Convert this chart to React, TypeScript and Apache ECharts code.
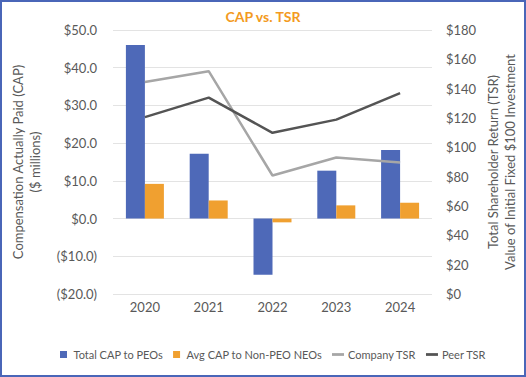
import React, { useEffect, useRef } from "react";
import * as echarts from "echarts";

const years = ["2020", "2021", "2022", "2023", "2024"];
const totalCapPeo = [46.0, 17.2, -14.9, 12.7, 18.2];
const avgCapNonPeo = [9.2, 4.8, -1.0, 3.5, 4.2];
const companyTsr = [144.6, 151.9, 80.8, 93.1, 89.6];
const peerTsr = [120.6, 133.9, 109.9, 118.9, 136.9];

const FONT = "Lato, 'Noto Sans', sans-serif";
const GREY = "#595959";

export default function App() {
  const ref = useRef<HTMLDivElement>(null);
  useEffect(() => {
    document.body.style.margin = "0";
    const chart = echarts.init(ref.current!, null, { renderer: "svg" });
    chart.setOption({
      animation: false,
      textStyle: { fontFamily: FONT },
      title: {
        text: "CAP vs. TSR",
        left: "center",
        top: 4,
        textStyle: { color: "#f39a21", fontSize: 14, fontWeight: "bold", fontFamily: FONT },
      },
      grid: { left: 113, right: 94, top: 30, bottom: 83 },
      legend: {
        left: 55,
        top: 344,
        width: 470,
        itemWidth: 12,
        itemHeight: 7,
        itemGap: 10,
        textStyle: { color: GREY, fontSize: 11, fontFamily: FONT, padding: [0, 0, 0, -1] },
        data: [
          { name: "Total CAP to PEOs", icon: "path://M0,0h7v7h-7z" },
          { name: "Avg CAP to Non-PEO NEOs", icon: "path://M0,0h7v7h-7z" },
          { name: "Company TSR", icon: "path://M0,0h13v3h-13z" },
          { name: "Peer TSR", icon: "path://M0,0h13v3h-13z" },
        ],
      },
      xAxis: {
        type: "category",
        data: years,
        axisLine: { show: false },
        axisTick: { show: false },
        axisLabel: { color: GREY, fontSize: 13, margin: 6, fontFamily: FONT },
      },
      yAxis: [
        {
          type: "value",
          min: -20,
          max: 50,
          interval: 10,
          axisLine: { show: false },
          axisTick: { show: false },
          splitLine: { lineStyle: { color: "#e3e3e3", width: 1 } },
          axisLabel: {
            color: GREY,
            fontSize: 13,
            margin: 16,
            fontFamily: FONT,
            formatter: (v: number) =>
              v < 0 ? `($${Math.abs(v).toFixed(1)})` : `$${v.toFixed(1)}`,
          },
        },
        {
          type: "value",
          min: 0,
          max: 180,
          interval: 20,
          axisLine: { show: false },
          axisTick: { show: false },
          splitLine: { show: false },
          axisLabel: {
            color: GREY,
            fontSize: 13,
            margin: 14,
            fontFamily: FONT,
            formatter: (v: number) => `$${v}`,
          },
        },
      ],
      graphic: [
        {
          type: "text",
          x: 18,
          y: 162,
          rotation: Math.PI / 2,
          style: {
            text: "Compensation Actually Paid (CAP)",
            fill: GREY,
            font: `13px ${FONT}`,
            align: "center",
            verticalAlign: "middle",
          },
        },
        {
          type: "text",
          x: 35,
          y: 162,
          rotation: Math.PI / 2,
          style: {
            text: "($ millions)",
            fill: GREY,
            font: `13px ${FONT}`,
            align: "center",
            verticalAlign: "middle",
          },
        },
        {
          type: "text",
          x: 493,
          y: 162,
          rotation: Math.PI / 2,
          style: {
            text: "Total Shareholder Return (TSR)",
            fill: GREY,
            font: `13px ${FONT}`,
            align: "center",
            verticalAlign: "middle",
          },
        },
        {
          type: "text",
          x: 510,
          y: 162,
          rotation: Math.PI / 2,
          style: {
            text: "Value of Initial Fixed $100 Investment",
            fill: GREY,
            font: `13px ${FONT}`,
            align: "center",
            verticalAlign: "middle",
          },
        },
      ],
      series: [
        {
          name: "Total CAP to PEOs",
          type: "bar",
          data: totalCapPeo,
          barWidth: 19,
          barGap: "0%",
          itemStyle: { color: "#4e69b8" },
        },
        {
          name: "Avg CAP to Non-PEO NEOs",
          type: "bar",
          data: avgCapNonPeo,
          barWidth: 19,
          barGap: "0%",
          itemStyle: { color: "#f0a030" },
        },
        {
          name: "Company TSR",
          type: "line",
          yAxisIndex: 1,
          data: companyTsr,
          symbol: "none",
          itemStyle: { color: "#a6a6a6" },
          lineStyle: { color: "#a6a6a6", width: 2.5 },
        },
        {
          name: "Peer TSR",
          type: "line",
          yAxisIndex: 1,
          data: peerTsr,
          symbol: "none",
          itemStyle: { color: "#545454" },
          lineStyle: { color: "#545454", width: 2.5 },
        },
      ],
    });
    return () => chart.dispose();
  }, []);
  return (
    <div
      style={{
        position: "absolute",
        left: 0,
        top: 0,
        width: 526,
        height: 377,
        boxSizing: "border-box",
        border: "2px solid #4a66b8",
        background: "#fff",
      }}
    >
      <div ref={ref} style={{ position: "absolute", left: -2, top: -2, width: 526, height: 377 }} />
    </div>
  );
}
